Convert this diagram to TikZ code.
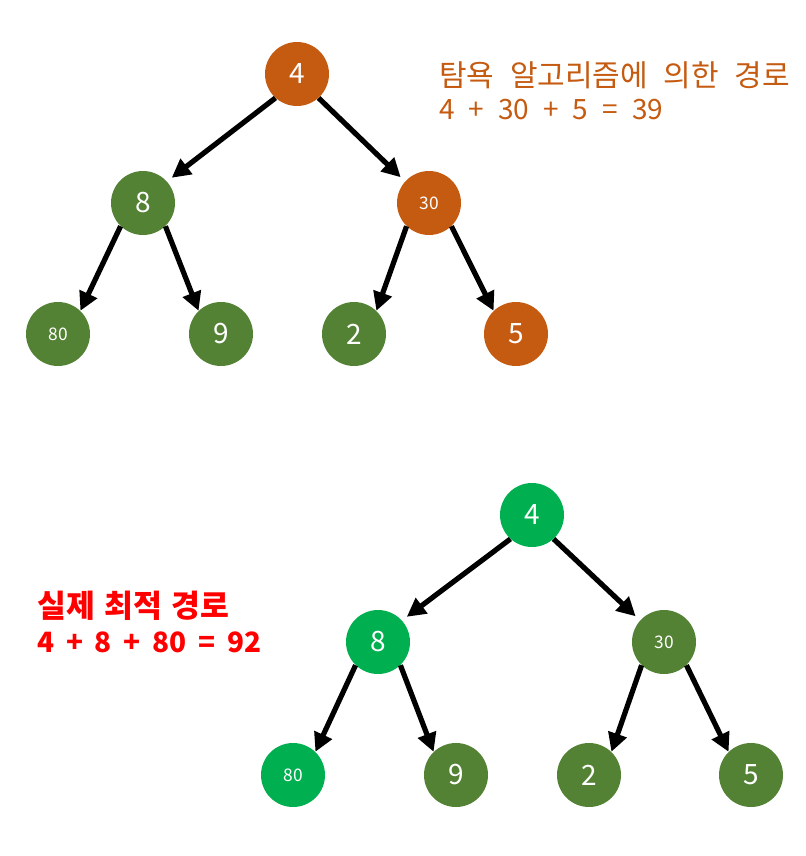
\documentclass[tikz,border=0pt]{standalone}
\usepackage{fontspec}
\setmainfont{Noto Sans CJK KR}
\usetikzlibrary{arrows.meta}
\definecolor{orng}{HTML}{C55A11}
\definecolor{dgreen}{HTML}{548235}
\definecolor{bgreen}{HTML}{00B050}
\definecolor{rd}{HTML}{FF0000}
\newcommand\wsp[1]{\spaceskip=#1\relax}
\tikzset{
  vtx/.style={circle, minimum size=48pt, inner sep=0pt, text=white, font=\fontsize{21}{21}\selectfont},
  small/.style={font=\fontsize{13}{13}\selectfont},
  og/.style={vtx, fill=orng},
  dg/.style={vtx, fill=dgreen},
  bg/.style={vtx, fill=bgreen},
  arr/.style={line width=3.9pt, -{Triangle[length=14pt,width=14pt]}},
  toparr/.style={arr, shorten >=4.5pt},
  lbl/.style={anchor=west, align=left, inner sep=0pt}
}
\begin{document}
\begin{tikzpicture}[x=0.75pt,y=-0.75pt]
\useasboundingbox (0,0) rectangle (806,856);
% top tree
\node[og] (a4) at (297,74) {4};
\node[dg] (a8) at (143,203) {8};
\node[og,small] (a30) at (429,203) {30};
\node[dg,small] (a80) at (58,334) {80};
\node[dg] (a9) at (221,334) {9};
\node[dg] (a2) at (354,334) {2};
\node[og] (a5) at (516,334) {5};
\draw[toparr] (a4.-132) -- (a8.42);
\draw[toparr] (a4.-48) -- (a30.138);
\draw[arr] (a8.-134) -- (a80.46);
\draw[arr] (a8.-46) -- (a9.134);
\draw[arr] (a30.-134) -- (a2.46);
\draw[arr] (a30.-46) -- (a5.134);
\node[lbl, text=orng, font=\fontsize{22.5}{22.5}\selectfont] (t1) at (439,75) {\wsp{0.52em}탐욕 알고리즘에 의한 경로};
\node[lbl, text=orng, font=\fontsize{21}{21}\selectfont] (t2) at (439,110) {\wsp{0.5em}4 + 30 + 5 = 39};
% bottom tree
\node[bg] (b4) at (532,515) {4};
\node[bg] (b8) at (378,642) {8};
\node[dg,small] (b30) at (664,642) {30};
\node[bg,small] (b80) at (293,775) {80};
\node[dg] (b9) at (456,775) {9};
\node[dg] (b2) at (589,775) {2};
\node[dg] (b5) at (751,775) {5};
\draw[toparr] (b4.-132) -- (b8.42);
\draw[toparr] (b4.-48) -- (b30.138);
\draw[arr] (b8.-134) -- (b80.46);
\draw[arr] (b8.-46) -- (b9.134);
\draw[arr] (b30.-134) -- (b2.46);
\draw[arr] (b30.-46) -- (b5.134);
\node[lbl, text=rd, font=\fontsize{23.5}{23.5}\selectfont\bfseries] (r1) at (37,606) {\wsp{0.3em}실제 최적 경로};
\node[lbl, text=rd, font=\fontsize{21}{21}\selectfont\bfseries] (r2) at (37,642) {\wsp{0.42em}4 + 8 + 80 = 92};
\end{tikzpicture}
\end{document}
